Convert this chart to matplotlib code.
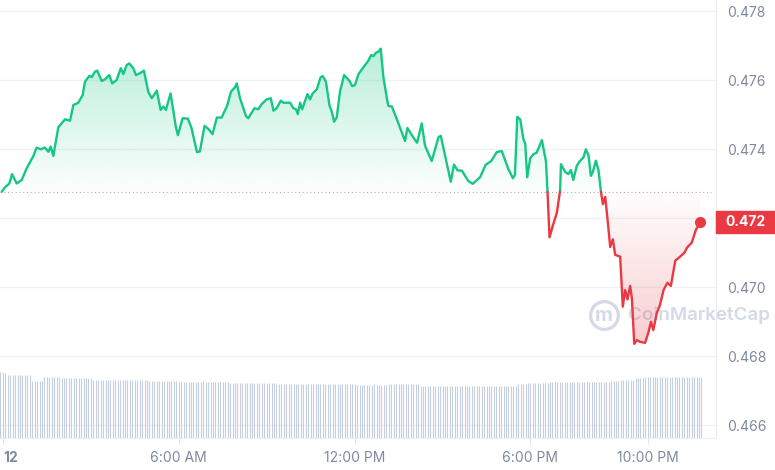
import numpy as np
import matplotlib
matplotlib.use("Agg")
import matplotlib.pyplot as plt
import matplotlib.transforms as mtransforms
from matplotlib.path import Path
from matplotlib.patches import Rectangle

plt.rcParams['font.family'] = ['Inter', 'DejaVu Sans']

# price in USD, time in hours after midnight
hours = [-0.04, 0.07, 0.22, 0.31, 0.47, 0.64, 0.81, 1.03, 1.15, 1.29, 1.43, 1.55, 1.63, 1.72, 1.89,
         2.12, 2.29, 2.40, 2.57, 2.72, 2.80, 2.95, 3.03, 3.14, 3.22, 3.37, 3.48, 3.63, 3.73, 3.88,
         4.02, 4.11, 4.22, 4.31, 4.45, 4.54, 4.68, 4.81, 4.96, 5.08, 5.25, 5.38, 5.47, 5.56, 5.72,
         5.90, 5.97, 6.13, 6.31, 6.43, 6.62, 6.72, 6.88, 7.01, 7.15, 7.30, 7.46, 7.65, 7.78, 7.92,
         7.98, 8.09, 8.29, 8.37, 8.58, 8.71, 8.83, 9.00, 9.14, 9.23, 9.34, 9.48, 9.57, 9.80, 9.91,
         10.00, 10.06, 10.14, 10.21, 10.39, 10.48, 10.57, 10.71, 10.84, 10.91, 11.02, 11.14, 11.22,
         11.30, 11.39, 11.50, 11.64, 11.82, 11.92, 12.01, 12.13, 12.30, 12.47, 12.56, 12.64, 12.73,
         12.81, 12.89, 12.98, 13.10, 13.15, 13.27, 13.41, 13.72, 13.80, 13.99, 14.13, 14.29, 14.40,
         14.63, 14.86, 14.94, 15.28, 15.39, 15.51, 15.66, 15.88, 16.03, 16.28, 16.47, 16.66, 16.85,
         17.02, 17.24, 17.40, 17.47, 17.55, 17.65, 17.76, 17.82, 17.89, 17.99, 18.10, 18.21, 18.39,
         18.53, 18.58, 18.65, 18.76, 18.90, 19.01, 19.04, 19.18, 19.29, 19.38, 19.46, 19.58, 19.67,
         19.81, 19.89, 19.98, 20.06, 20.13, 20.23, 20.32, 20.40, 20.47, 20.55, 20.62, 20.72, 20.81,
         20.89, 21.06, 21.15, 21.23, 21.31, 21.40, 21.46, 21.54, 21.63, 21.74, 21.91, 22.02, 22.11,
         22.19, 22.31, 22.42, 22.54, 22.67, 22.79, 22.94, 23.08, 23.25, 23.35, 23.50, 23.65, 23.73,
         23.79]
price = [0.47277, 0.47290, 0.47301, 0.47328, 0.47301, 0.47311, 0.47345, 0.47379, 0.47405, 0.47400,
         0.47405, 0.47393, 0.47408, 0.47381, 0.47464, 0.47487, 0.47483, 0.47528, 0.47535, 0.47557,
         0.47596, 0.47613, 0.47609, 0.47625, 0.47628, 0.47598, 0.47603, 0.47615, 0.47591, 0.47601,
         0.47635, 0.47618, 0.47644, 0.47649, 0.47635, 0.47615, 0.47621, 0.47628, 0.47566, 0.47548,
         0.47570, 0.47514, 0.47524, 0.47514, 0.47562, 0.47465, 0.47441, 0.47490, 0.47489, 0.47463,
         0.47392, 0.47394, 0.47468, 0.47459, 0.47444, 0.47492, 0.47492, 0.47526, 0.47567, 0.47580,
         0.47591, 0.47548, 0.47497, 0.47490, 0.47519, 0.47516, 0.47531, 0.47545, 0.47548, 0.47512,
         0.47519, 0.47541, 0.47535, 0.47535, 0.47519, 0.47516, 0.47502, 0.47535, 0.47516, 0.47560,
         0.47545, 0.47562, 0.47574, 0.47609, 0.47612, 0.47596, 0.47528, 0.47509, 0.47480, 0.47493,
         0.47567, 0.47615, 0.47599, 0.47583, 0.47586, 0.47618, 0.47638, 0.47657, 0.47673, 0.47670,
         0.47680, 0.47683, 0.47692, 0.47610, 0.47548, 0.47526, 0.47524, 0.47494, 0.47424, 0.47462,
         0.47436, 0.47419, 0.47475, 0.47411, 0.47366, 0.47435, 0.47439, 0.47306, 0.47356, 0.47339,
         0.47338, 0.47308, 0.47300, 0.47319, 0.47355, 0.47366, 0.47392, 0.47395, 0.47344, 0.47316,
         0.47326, 0.47494, 0.47487, 0.47429, 0.47417, 0.47319, 0.47374, 0.47386, 0.47390, 0.47427,
         0.47364, 0.47279, 0.47145, 0.47178, 0.47216, 0.47280, 0.47357, 0.47335, 0.47328, 0.47340,
         0.47311, 0.47352, 0.47364, 0.47377, 0.47400, 0.47383, 0.47323, 0.47335, 0.47367, 0.47340,
         0.47280, 0.47241, 0.47262, 0.47205, 0.47117, 0.47139, 0.47094, 0.47089, 0.46944, 0.46992,
         0.46965, 0.47004, 0.46968, 0.46836, 0.46847, 0.46842, 0.46839, 0.46868, 0.46900, 0.46876,
         0.46925, 0.46949, 0.46992, 0.47013, 0.47004, 0.47077, 0.47087, 0.47100, 0.47116, 0.47129,
         0.47168, 0.47178, 0.47190]

# traded volume, one bar every 5 minutes (relative units), one row per hour
volume = [
    65.7, 65.7, 64.7, 63, 63, 63, 63, 63, 63, 63, 63, 63,
    63, 57, 57, 57, 57, 57, 60.7, 60.7, 60.7, 60.7, 60.7, 60.7,
    60.7, 59.7, 59.7, 59.7, 59.7, 59.7, 59.7, 59.7, 59.7, 59.7, 59.7, 59.7,
    59.7, 59.7, 58, 58, 58, 58, 58, 58, 58, 58, 58, 58,
    58, 58, 58, 58, 58, 58, 58, 58, 58, 58, 58, 58,
    58, 56.7, 56.7, 56.7, 56.7, 56.7, 56.7, 56.7, 56.7, 56.7, 56.7, 56.7,
    56.7, 55.7, 55.7, 55.7, 55.7, 55.7, 55.7, 55.7, 55.7, 55.7, 55.7, 57,
    55.7, 55.7, 55.7, 55.7, 55.7, 55.7, 55.7, 55.7, 55.7, 55.7, 54.7, 54.7,
    54.7, 54.7, 54.7, 54.7, 54.7, 54.7, 54.7, 54.7, 54.7, 54.7, 54.7, 54.7,
    54.7, 54.7, 54.7, 54.7, 54.7, 53.7, 53.7, 53.7, 53.7, 53.7, 53.7, 53.7,
    53.7, 53.7, 53.7, 53.7, 53.7, 53.7, 53.7, 53.7, 53.7, 53.7, 53.7, 53.7,
    53.7, 53.7, 53.7, 53.7, 53.7, 53.7, 53.7, 53.7, 53.7, 53.7, 53.7, 53.7,
    53.7, 53.7, 52.7, 52.7, 52.7, 52.7, 52.7, 52.7, 52.7, 53.7, 52.7, 52.7,
    52.7, 52.7, 52.7, 53.7, 53.7, 53.7, 53.7, 53.7, 53.7, 53.7, 53.7, 53.7,
    53.7, 53.7, 53.7, 53.7, 52, 52, 52, 52, 52, 52, 52, 52,
    52, 52, 52, 52, 52, 52, 52, 52, 52, 52, 52, 52,
    52, 52, 52, 52, 52, 52, 52, 52, 52, 52, 52, 52,
    52, 52, 52, 52, 52, 52, 52, 52, 53.7, 53.7, 53.7, 53.7,
    54.7, 54.7, 54.7, 54.7, 54.7, 54.7, 54.7, 54.7, 54.7, 55.7, 55.7, 55.7,
    55.7, 55.7, 55.7, 55.7, 55.7, 55.7, 55.7, 55.7, 55.7, 55.7, 55.7, 55.7,
    55.7, 55.7, 55.7, 55.7, 55.7, 55.7, 55.7, 55.7, 55.7, 55.7, 57, 57,
    57, 57, 58, 58, 58, 58, 58, 58, 59.7, 59.7, 59.7, 59.7,
    60.7, 60.7, 60.7, 60.7, 60.7, 60.7, 60.7, 60.7, 60.7, 60.7, 60.7, 60.7,
    60.7, 60.7, 60.7, 60.7, 60.7, 60.7, 60.7, 60.7, 60.7, 60.7, 60.7, 60.7,
]

tick_hours = [0, 6, 12, 18, 22]
tick_labels = ['12', '6:00 AM', '12:00 PM', '6:00 PM', '10:00 PM']
price_ticks = [0.466, 0.468, 0.470, 0.472, 0.474, 0.476, 0.478]

GREEN = '#16c784'
RED = '#ea3943'
GREY = '#808a9d'
GRID = '#eff2f5'

t = np.array(hours)
p = np.array(price)
base = p[0]
last_label = f'{round(p[-1], 3):.3f}'

# add the points where the line crosses the opening price, so colours switch there
tt, pp = [t[0]], [p[0]]
for i in range(1, len(t)):
    a, b = p[i - 1] - base, p[i] - base
    if a * b < 0:
        tt.append(t[i - 1] + (t[i] - t[i - 1]) * a / (a - b))
        pp.append(base)
    tt.append(t[i])
    pp.append(p[i])
tt, pp = np.array(tt), np.array(pp)

fig = plt.figure(figsize=(7.75, 4.7), dpi=100)
ax = fig.add_axes([0, 32 / 470, 716 / 775, 438 / 470])

# volume bars along the bottom
vol = np.array(volume)
vol_t = (np.arange(len(vol)) * 5 - 5) / 60
trans = mtransforms.blended_transform_factory(ax.transData, ax.transAxes)
ax.vlines(vol_t, 0, vol / vol.max() * 0.15, transform=trans, color='#c6cee1', lw=0.8, zorder=1)

# gradient fills clipped to the area between line and opening price
def gradient(where, rgb, far, alpha_far):
    poly = ax.fill_between(tt, pp, base, where=where, facecolor='none', edgecolor='none')
    n = 256
    img = np.zeros((n, 1, 4))
    img[..., :3] = matplotlib.colors.to_rgb(rgb)
    alphas = np.linspace(0.01, alpha_far, n)
    lo, hi = min(base, far), max(base, far)
    img[:, 0, 3] = alphas if far > base else alphas[::-1]
    im = ax.imshow(img, extent=[tt[0], tt[-1], lo, hi], origin='lower', aspect='auto',
                   interpolation='bilinear', zorder=2)
    im.set_clip_path(Path.make_compound_path(*poly.get_paths()), transform=ax.transData)

gradient(pp >= base, GREEN, pp.max(), 0.3)
gradient(pp <= base, RED, pp.min(), 0.25)

# opening price, dotted
ax.hlines(base, -0.1, 24.16, color='#a6adba', lw=0.8, linestyle=(0, (1, 2.4)), zorder=3)

ax.plot(tt, np.where(pp >= base, pp, np.nan), color=GREEN, lw=1.7, zorder=4,
        solid_joinstyle='round', solid_capstyle='round')
ax.plot(tt, np.where(pp <= base, pp, np.nan), color=RED, lw=1.7, zorder=4,
        solid_joinstyle='round', solid_capstyle='round')
ax.plot(tt[-1], pp[-1], 'o', ms=7, color=RED, zorder=5)

# watermark
ax.plot([0.8436], [0.281], 'o', ms=20, mfc='none', mec='#d3d9e6', mew=2.3,
        transform=ax.transAxes, zorder=1)
ax.text(0.8436, 0.279, 'm', transform=ax.transAxes, ha='center', va='center',
        fontsize=14, fontweight='bold', color='#d3d9e6', zorder=1)
ax.text(0.877, 0.281, 'CoinMarketCap', transform=ax.transAxes, ha='left', va='center',
        fontsize=13.5, fontweight='semibold', color='#d3d9e6', zorder=1)

ax.set_xlim(-0.1, 24.33)
ax.set_ylim(0.465632, 0.478328)

ax.set_xticks(tick_hours, tick_labels)
# the current-price tag sits on the 0.472 row, so that tick label is left to the tag
ax.set_yticks(price_ticks, ['' if f'{v:.3f}' == last_label else f'{v:.3f}' for v in price_ticks])
ax.yaxis.tick_right()
ax.tick_params(axis='x', length=4, color='#e3e7ec', labelcolor=GREY, labelsize=10, pad=5)
ax.tick_params(axis='y', length=0, labelcolor=GREY, labelsize=10, pad=8)
lab0 = ax.get_xticklabels()[0]
lab0.set_horizontalalignment('left')
lab0.set_fontweight('bold')

ax.grid(axis='y', color=GRID, lw=1)
ax.set_axisbelow(True)
for s in ['top', 'left']:
    ax.spines[s].set_visible(False)
ax.spines['right'].set_color('#e8ebf0')
ax.spines['bottom'].set_color('#eceff3')

# current price tag
tag = mtransforms.blended_transform_factory(ax.transAxes, ax.transData)
h = 22 / 34500
ax.add_patch(Rectangle((1.0, pp[-1] - h / 2), 59 / 716, h, transform=tag, color=RED,
                       clip_on=False, zorder=6))
ax.text(1 + 29.5 / 716, pp[-1], last_label, transform=tag, ha='center',
        va='center', color='white', fontsize=10, fontweight='bold', clip_on=False, zorder=7)

fig.savefig('out.png', dpi=100, facecolor='white')
